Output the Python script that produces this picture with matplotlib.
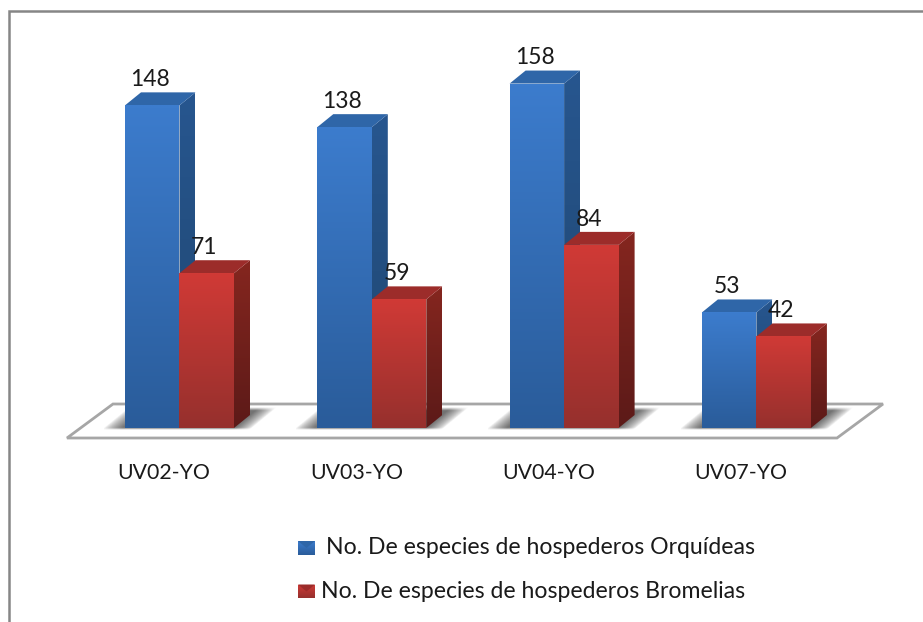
import numpy as np
import matplotlib
matplotlib.use('Agg')
import matplotlib.pyplot as plt
from matplotlib.patches import Polygon
from matplotlib.lines import Line2D

plt.rcParams['font.family'] = ['Lato', 'DejaVu Sans']

categories = ['UV02-YO', 'UV03-YO', 'UV04-YO', 'UV07-YO']
orquideas = [148, 138, 158, 53]
bromelias = [71, 59, 84, 42]
legend_labels = ['No. De especies de hospederos Orquídeas',
                 'No. De especies de hospederos Bromelias']

W, H = 923, 622
group_px = 192.3      # px between groups
value_px = 2.18       # px per unit
x0_px, y0_px = 179.5, 428
bar_w = 54.5 / group_px
dx = 16 / group_px
dy = 13 / value_px

blue = dict(top='#2f66a8', front_hi='#3c7ccd', front_lo='#2a5c9a', side_hi='#27568f', side_lo='#1f466f')
red = dict(top='#9c2c2a', front_hi='#d03a36', front_lo='#96302d', side_hi='#85261f', side_lo='#5c1a18')


def grad_poly(ax, pts, c_hi, c_lo, zorder):
    # vertical gradient clipped to a polygon
    pts = np.array(pts)
    hi = np.array(matplotlib.colors.to_rgb(c_hi))
    lo = np.array(matplotlib.colors.to_rgb(c_lo))
    t = np.linspace(0, 1, 64)[:, None]
    img = (hi * (1 - t) + lo * t)[:, None, :]
    im = ax.imshow(img, extent=(pts[:, 0].min(), pts[:, 0].max(), pts[:, 1].min(), pts[:, 1].max()),
                   origin='upper', aspect='auto', zorder=zorder, interpolation='bilinear')
    p = Polygon(pts, closed=True, transform=ax.transData)
    im.set_clip_path(p)


def bar3d(ax, x, v, c, z):
    ytop = v
    grad_poly(ax, [(x + bar_w, 0), (x + bar_w + dx, dy), (x + bar_w + dx, ytop + dy), (x + bar_w, ytop)],
              c['side_hi'], c['side_lo'], z)
    ax.add_patch(Polygon([(x, ytop), (x + dx, ytop + dy), (x + bar_w + dx, ytop + dy), (x + bar_w, ytop)],
                         closed=True, fc=c['top'], ec='none', zorder=z))
    grad_poly(ax, [(x, 0), (x + bar_w, 0), (x + bar_w, ytop), (x, ytop)], c['front_hi'], c['front_lo'], z + 0.1)


def shadow(ax, u_left, u_right):
    # soft sheared shadow on the floor behind a pair of bars
    ylo, yhi = -1.0, dy * 1.55
    xs = np.linspace(u_left, u_right + dx * 1.6, 260)
    ys = np.linspace(ylo, yhi, 60)
    xx, yy = np.meshgrid(xs, ys)
    uu = xx - yy / dy * dx
    a = np.clip((uu - u_left) / 0.10, 0, 1) ** 0.7 * np.clip((u_right - uu) / 0.09, 0, 1) ** 0.7
    a = a * np.clip((yhi - yy) / 1.5, 0, 1) * np.clip((yy - ylo) / 1.0, 0, 1)
    img = np.zeros(xx.shape + (4,))
    img[..., :3] = 0.35
    img[..., 3] = a * 0.85
    ax.imshow(img, extent=(xs[0], xs[-1], ylo, yhi), origin='lower', aspect='auto', zorder=1.5)


fig = plt.figure(figsize=(W / 100, H / 100), dpi=100)
ax = fig.add_axes([0, 0, 1, 1])
ax.axis('off')
ax.set_xlim(-x0_px / group_px, (W - x0_px) / group_px)
ax.set_ylim(-(H - y0_px) / value_px, y0_px / value_px)

fx = lambda px: (px - x0_px) / group_px
fy = lambda px: (y0_px - px) / value_px

# floor
floor = [(fx(67), fy(438)), (fx(837), fy(438)), (fx(883), fy(404)), (fx(113), fy(404))]
ax.add_patch(Polygon(floor, closed=True, fc='white', ec='#a6a6a6', lw=2, zorder=1))

# chart border, only left and top show
ax.add_line(Line2D([fx(8.5), fx(8.5), fx(923)], [fy(622), fy(10.5), fy(10.5)],
                   color='#868686', lw=1.8, zorder=1, solid_joinstyle='miter'))

for i, cat in enumerate(categories):
    shadow(ax, i - bar_w - 0.11, i + bar_w + 0.09)
    bar3d(ax, i - bar_w, orquideas[i], blue, 2 + i)
    bar3d(ax, i, bromelias[i], red, 2.3 + i)
    ax.text(i - bar_w + 0.13, orquideas[i] + dy + 1, str(orquideas[i]), ha='center', va='bottom',
            fontsize=16.5, color='#1a1a1a', zorder=10)
    ax.text(i + 0.13, bromelias[i] + dy + 1, str(bromelias[i]), ha='center', va='bottom',
            fontsize=16.5, color='#1a1a1a', zorder=10)
    ax.text(i - 0.08, fy(473), cat, ha='center', va='center', fontsize=15.3, color='#1a1a1a')

# legend
leg_y = [548, 591.5]
leg_x = [326, 321]
for ypx, xpx, label, c in zip(leg_y, leg_x, legend_labels, [blue, red]):
    sx, sw = 298, 17
    pts = [(fx(sx), fy(ypx + 7)), (fx(sx + sw), fy(ypx + 7)), (fx(sx + sw), fy(ypx - 7)), (fx(sx), fy(ypx - 7))]
    grad_poly(ax, pts, c['front_hi'], c['front_lo'], 3)
    # bevel on top of the swatch
    ax.add_patch(Polygon([(fx(sx), fy(ypx - 7)), (fx(sx + sw), fy(ypx - 7)), (fx(sx + sw / 2), fy(ypx))],
                         closed=True, fc=c['top'], ec='none', zorder=3.2))
    ax.text(fx(xpx), fy(ypx), label, ha='left', va='center', fontsize=16.6, color='#1a1a1a')

ax.set_xlim(-x0_px / group_px, (W - x0_px) / group_px)
ax.set_ylim(-(H - y0_px) / value_px, y0_px / value_px)
fig.savefig('out.png', dpi=100, facecolor='white')
